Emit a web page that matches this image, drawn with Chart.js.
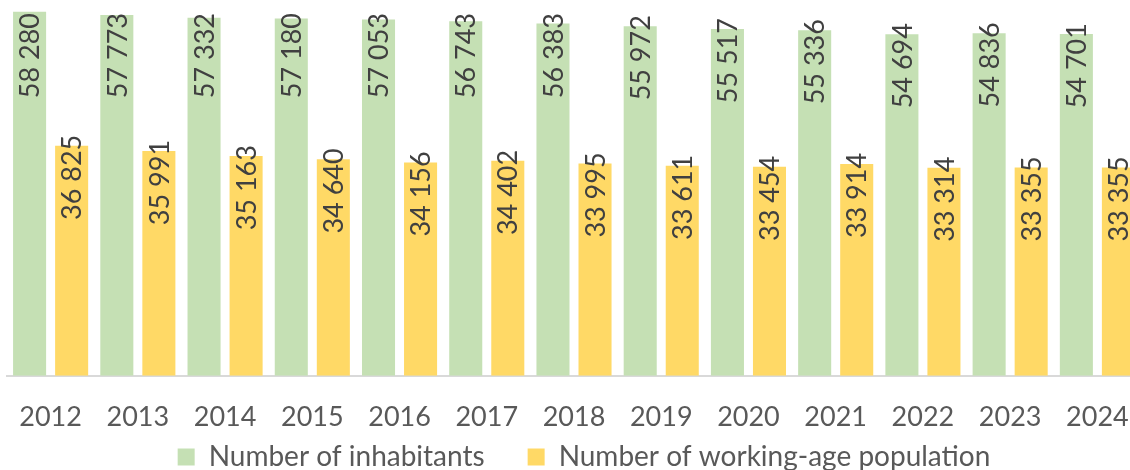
<!DOCTYPE html>
<html>
<head>
<meta charset="utf-8">
<script src="https://cdn.jsdelivr.net/npm/chart.js@4.4.1/dist/chart.umd.min.js"></script>
<style>
  html, body { margin: 0; padding: 0; overflow: hidden; background: #fff; }
  #wrap { position: absolute; left: 0; top: 0; width: 1161px; height: 481px; }
</style>
</head>
<body>
<div id="wrap"><canvas id="popChart"></canvas></div>
<script>
const years = ['2012', '2013', '2014', '2015', '2016', '2017', '2018', '2019', '2020', '2021', '2022', '2023', '2024'];
const inhabitants = [58280, 57773, 57332, 57180, 57053, 56743, 56383, 55972, 55517, 55336, 54694, 54836, 54701];
const workingAge = [36825, 35991, 35163, 34640, 34156, 34402, 33995, 33611, 33454, 33914, 33314, 33355, 33355];

const FONT = 'Lato, "Open Sans", sans-serif';

function spaced(v) {
    return String(v).replace(/\B(?=(\d{3})+(?!\d))/g, ' ');
}

// vertical value labels at the top of each bar
const barLabels = {
    id: 'barLabels',
    afterDatasetsDraw(chart) {
        const c = chart.ctx;
        c.save();
        c.font = '27px ' + FONT;
        c.fillStyle = '#404040';
        c.textAlign = 'right';
        c.textBaseline = 'middle';
        chart.data.datasets.forEach((ds, i) => {
            chart.getDatasetMeta(i).data.forEach((bar, j) => {
                const yEnd = Math.max(bar.y - 11, 13);
                c.save();
                c.translate(bar.x + 1, yEnd);
                c.rotate(-Math.PI / 2);
                c.fillText(spaced(ds.data[j]), 0, 0);
                c.restore();
            });
        });
        c.restore();
    }
};

const ctx = document.getElementById('popChart').getContext('2d');

new Chart(ctx, {
    type: 'bar',
    data: {
        labels: years,
        datasets: [{
            label: 'Number of inhabitants',
            data: inhabitants,
            backgroundColor: '#C5E0B4',
            barPercentage: 0.786,
            categoryPercentage: 0.964
        }, {
            label: 'Number of working-age population',
            data: workingAge,
            backgroundColor: '#FFD966',
            barPercentage: 0.786,
            categoryPercentage: 0.964
        }]
    },
    options: {
        responsive: true,
        maintainAspectRatio: false,
        animation: false,
        layout: { padding: { left: 7, right: 0, top: 1, bottom: 0 } },
        scales: {
            x: {
                // no grid drawn, tick length only spaces the labels down
                grid: { display: false, drawTicks: true, tickLength: 15 },
                border: { color: '#D9D9D9', width: 2 },
                ticks: {
                    color: '#595959',
                    font: { family: FONT, size: 27, lineHeight: 0.53 },
                    padding: 19,
                    maxRotation: 0
                }
            },
            y: {
                position: 'right',
                min: 0,
                max: 60000,
                grid: { display: false },
                border: { display: false },
                ticks: { display: false },
                // empty strip on the right, runs off the page like the original
                afterFit: s => { s.width = 20; }
            }
        },
        plugins: {
            legend: {
                position: 'bottom',
                labels: {
                    color: '#595959',
                    font: { family: FONT, size: 28 },
                    boxWidth: 17,
                    boxHeight: 17,
                    padding: 0,
                    generateLabels(chart) {
                        const items = Chart.defaults.plugins.legend.labels.generateLabels(chart);
                        items[0].text += ' '.repeat(6);
                        return items;
                    }
                }
            },
            tooltip: { enabled: false }
        }
    },
    plugins: [barLabels]
});
</script>
</body>
</html>
